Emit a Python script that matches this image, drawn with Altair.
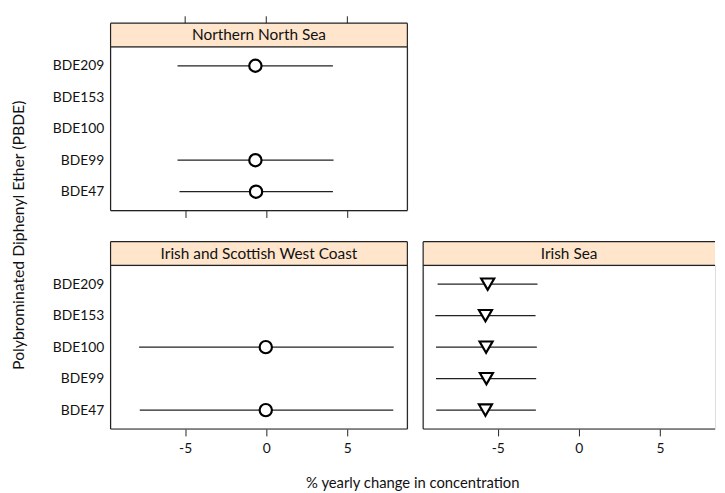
import altair as alt
import pandas as pd

FONT = "Lato"
LINE = "#222222"
STRIP = "#FFE5CC"

congeners = ["BDE209", "BDE153", "BDE100", "BDE99", "BDE47"]

nns_congener = ["BDE209", "BDE99", "BDE47"]
nns_est = [-0.67, -0.67, -0.63]
nns_lower = [-5.47, -5.47, -5.35]
nns_upper = [4.11, 4.15, 4.11]

iswc_congener = ["BDE100", "BDE47"]
iswc_est = [-0.03, -0.03]
iswc_lower = [-7.84, -7.80]
iswc_upper = [7.86, 7.83]

is_congener = ["BDE209", "BDE153", "BDE100", "BDE99", "BDE47"]
is_est = [-5.62, -5.76, -5.72, -5.70, -5.76]
is_lower = [-8.71, -8.85, -8.81, -8.81, -8.79]
is_upper = [-2.55, -2.67, -2.59, -2.63, -2.65]

x_ticks = [-5, 0, 5]
XMIN, XMAX = -9.6, 8.7
H, S = 166, 24


def frame(c, e, lo, up):
    return pd.DataFrame({"congener": c, "est": e, "lower": lo, "upper": up})


def panel(df, title, shape, size, W, xmax, y_labels=True, top_ticks=False,
          x_labels=True, right_border=True, x_title="", y_title=""):
    xs = alt.Scale(domain=[XMIN, xmax], nice=False, zero=False)
    ys = alt.Scale(type="point", domain=congeners, padding=0.6)

    xaxis_kw = dict(values=x_ticks, labels=x_labels, labelExpr="'' + datum.value",
                    tickSize=7, tickColor=LINE, domain=False, grid=False,
                    labelFontSize=14, labelFont=FONT, labelColor="#111",
                    labelPadding=6, tickWidth=1, title=x_title)
    if x_title:
        xaxis_kw.update(titleFontSize=15, titleFont=FONT,
                        titleFontWeight="normal", titleColor="#111",
                        titleX=306, titleY=47)
    yaxis_kw = dict(labels=y_labels, ticks=False, domain=False, grid=False,
                    labelFontSize=14, labelFont=FONT, labelColor="#111",
                    labelPadding=7, title=y_title)
    if y_title:
        yaxis_kw.update(titleFontSize=16, titleFont=FONT,
                        titleFontWeight="normal", titleColor="#111",
                        titlePadding=26, titleY=-31)

    base = alt.Chart(df)
    rules = base.mark_rule(color=LINE, strokeWidth=1.3).encode(
        x=alt.X("lower:Q", scale=xs, axis=alt.Axis(orient="bottom", **xaxis_kw)),
        x2="upper:Q",
        y=alt.Y("congener:N", scale=ys, axis=alt.Axis(**yaxis_kw)
                if (y_labels or y_title) else None),
    )
    pts = base.mark_point(shape=shape, filled=True, fill="white", stroke="black",
                          strokeWidth=2.2, size=size, opacity=1).encode(
        x=alt.X("est:Q", scale=xs),
        y=alt.Y("congener:N", scale=ys),
    )
    lab = pd.DataFrame({"label": [title]})
    strip = alt.Chart(lab).mark_rect(fill=STRIP, strokeWidth=0).encode(
        x=alt.value(0), x2=alt.value(W), y=alt.value(-S), y2=alt.value(0))
    edges = []
    for yy in (-S, 0, H):
        edges.append(alt.Chart(lab).mark_rule(color=LINE, strokeWidth=1.2).encode(
            x=alt.value(0), x2=alt.value(W), y=alt.value(yy)))
    edges.append(alt.Chart(lab).mark_rule(color=LINE, strokeWidth=1.2).encode(
        x=alt.value(0), y=alt.value(-S), y2=alt.value(H)))
    if right_border:
        edges.append(alt.Chart(lab).mark_rule(color=LINE, strokeWidth=1.2).encode(
            x=alt.value(W), y=alt.value(-S), y2=alt.value(H)))
    text = alt.Chart(lab).mark_text(font=FONT, fontSize=15.6, color="#111",
                                    baseline="middle", align="center").encode(
        text="label:N", x=alt.value(W / 2), y=alt.value(-S / 2 + 0.5))
    layers = [strip] + edges + [rules, pts, text]
    if top_ticks:
        tk = pd.DataFrame({"t": x_ticks})
        top = alt.Chart(tk).mark_rule(color=LINE, strokeWidth=1).encode(
            x=alt.X("t:Q", scale=xs),
            y=alt.value(-S - 7), y2=alt.value(-S))
        layers.append(top)
    return alt.layer(*layers).properties(width=W, height=H)


nns = panel(frame(nns_congener, nns_est, nns_lower, nns_upper),
            "Northern North Sea", "circle", 155, 301, XMAX,
            top_ticks=True, x_labels=False)
iswc = panel(frame(iswc_congener, iswc_est, iswc_lower, iswc_upper),
             "Irish and Scottish West Coast", "circle", 155, 301, XMAX,
             x_title="% yearly change in concentration",
             y_title="Polybrominated Diphenyl Ether (PBDE)")
W_r = 296
xmax_r = XMIN + W_r * (XMAX - XMIN) / 301
irs = panel(frame(is_congener, is_est, is_lower, is_upper),
            "Irish Sea", "triangle-down", 175, W_r, xmax_r,
            y_labels=False, right_border=False)

bottom = alt.hconcat(iswc, irs, spacing=16, bounds="flush")
chart = alt.vconcat(nns, bottom, spacing=55.5, bounds="flush").properties(
    padding={"left": 2, "top": 4, "right": 0, "bottom": 0}
).configure_view(strokeOpacity=0).configure(background="white")

chart.save("out.html", embed_options={"renderer": "svg", "actions": False})
